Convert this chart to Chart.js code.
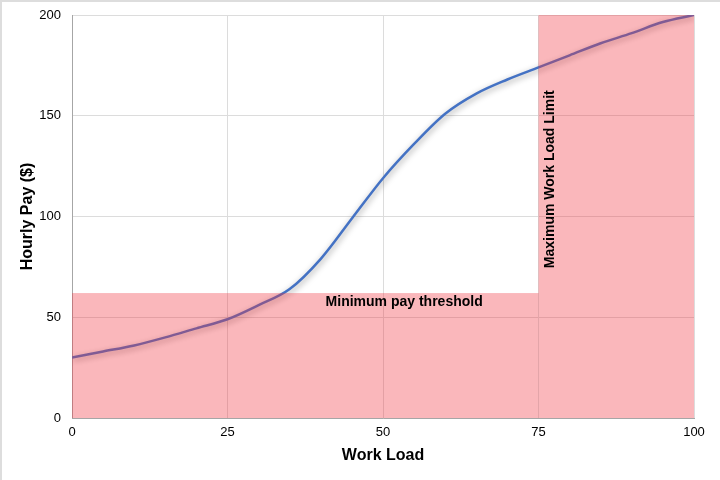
<!DOCTYPE html>
<html>
<head>
<meta charset="utf-8">
<script src="https://cdn.jsdelivr.net/npm/chart.js@4"></script>
<style>
  html, body { margin: 0; padding: 0; background: #fff; }
  #wrap { position: relative; width: 720px; height: 480px; box-sizing: border-box; border-left: 2px solid #ddd; border-top: 2px solid #ddd; }
  canvas { position: absolute; left: -2px; top: -2px; }
</style>
</head>
<body>
<div id="wrap"><canvas id="payChart" width="720" height="480"></canvas></div>
<script>
// work load (x) vs hourly pay (y)
const workLoad = [0, 5, 10, 15, 20, 25, 30, 35, 40, 45, 50, 55, 60, 65, 70, 75, 80, 85, 90, 95, 100];
const hourlyPay = [30, 33, 36, 40, 44.5, 49, 56, 64, 79, 99, 119, 136, 151, 161, 168, 174, 180, 186, 191, 196.5, 200];
const minPayThreshold = 62;
const maxWorkLoad = 75;
const xTicks = [0, 25, 50, 75, 100];
const yTicks = [0, 50, 100, 150, 200];

const pink = 'rgba(240, 50, 60, 0.35)';

// shadow under the curve
const shadowPlugin = {
  id: 'lineShadow',
  beforeDatasetDraw(chart) {
    const c = chart.ctx;
    c.save();
    c.shadowColor = 'rgba(0,0,0,0.4)';
    c.shadowBlur = 6;
    c.shadowOffsetX = 1;
    c.shadowOffsetY = 2;
  },
  afterDatasetDraw(chart) {
    chart.ctx.restore();
  }
};

// pink zones + their labels, drawn on top of the curve
const zonesPlugin = {
  id: 'zones',
  afterDatasetsDraw(chart) {
    const c = chart.ctx;
    const xs = chart.scales.x, ys = chart.scales.y;
    const x0 = xs.getPixelForValue(0);
    const xLim = xs.getPixelForValue(maxWorkLoad);
    const x1 = xs.getPixelForValue(100);
    const yBot = ys.getPixelForValue(0);
    const yThr = ys.getPixelForValue(minPayThreshold);
    const yTop = ys.getPixelForValue(200);
    c.save();
    c.fillStyle = pink;
    c.fillRect(x0, yThr, xLim - x0, yBot - yThr);
    c.fillRect(xLim, yTop, x1 - xLim, yBot - yTop);

    c.fillStyle = '#000';
    c.font = 'bold 14px "Liberation Sans", Arial, sans-serif';
    c.textAlign = 'center';
    c.textBaseline = 'middle';
    c.fillText('Minimum pay threshold', xs.getPixelForValue(53.4), ys.getPixelForValue(minPayThreshold - 4.5));

    c.translate(xs.getPixelForValue(76.9), ys.getPixelForValue(118.5));
    c.rotate(-Math.PI / 2);
    c.fillText('Maximum Work Load Limit', 0, 0);
    c.restore();
  }
};

const ctx = document.getElementById('payChart').getContext('2d');

new Chart(ctx, {
  type: 'line',
  data: {
    datasets: [{
      data: workLoad.map((x, i) => ({ x: x, y: hourlyPay[i] })),
      borderColor: '#4472c4',
      borderWidth: 2.5,
      pointRadius: 0,
      cubicInterpolationMode: 'monotone',
      fill: false
    }]
  },
  options: {
    responsive: false,
    animation: false,
    layout: { padding: { left: 0, top: 15, right: 26, bottom: 0 } },
    plugins: {
      legend: { display: false },
      tooltip: { enabled: false }
    },
    scales: {
      x: {
        type: 'linear',
        min: 0,
        max: 100,
        afterBuildTicks: (axis) => { axis.ticks = xTicks.map(v => ({ value: v })); },
        afterFit: (axis) => { axis.height = 62; axis.paddingLeft = 0; axis.paddingRight = 0; },
        ticks: { color: '#000', font: { family: 'Liberation Sans, Arial', size: 13 }, padding: 7, maxRotation: 0 },
        grid: { color: '#dcdcdc', tickLength: 0 },
        border: { color: '#a6a6a6', width: 1 },
        title: {
          display: true,
          text: 'Work Load',
          color: '#000',
          font: { family: 'Liberation Sans, Arial', size: 16, weight: 'bold' },
          padding: { top: 4, bottom: 15 }
        }
      },
      y: {
        min: 0,
        max: 200,
        afterBuildTicks: (axis) => { axis.ticks = yTicks.map(v => ({ value: v })); },
        afterFit: (axis) => { axis.width = 72; axis.paddingTop = 0; axis.paddingBottom = 0; },
        ticks: { color: '#000', font: { family: 'Liberation Sans, Arial', size: 13 }, padding: 11 },
        grid: { color: '#dcdcdc', tickLength: 0 },
        border: { color: '#a6a6a6', width: 1 },
        title: {
          display: true,
          text: 'Hourly Pay ($)',
          color: '#000',
          font: { family: 'Liberation Sans, Arial', size: 16, weight: 'bold' },
          padding: { top: 18 }
        }
      }
    }
  },
  plugins: [shadowPlugin, zonesPlugin]
});
</script>
</body>
</html>
